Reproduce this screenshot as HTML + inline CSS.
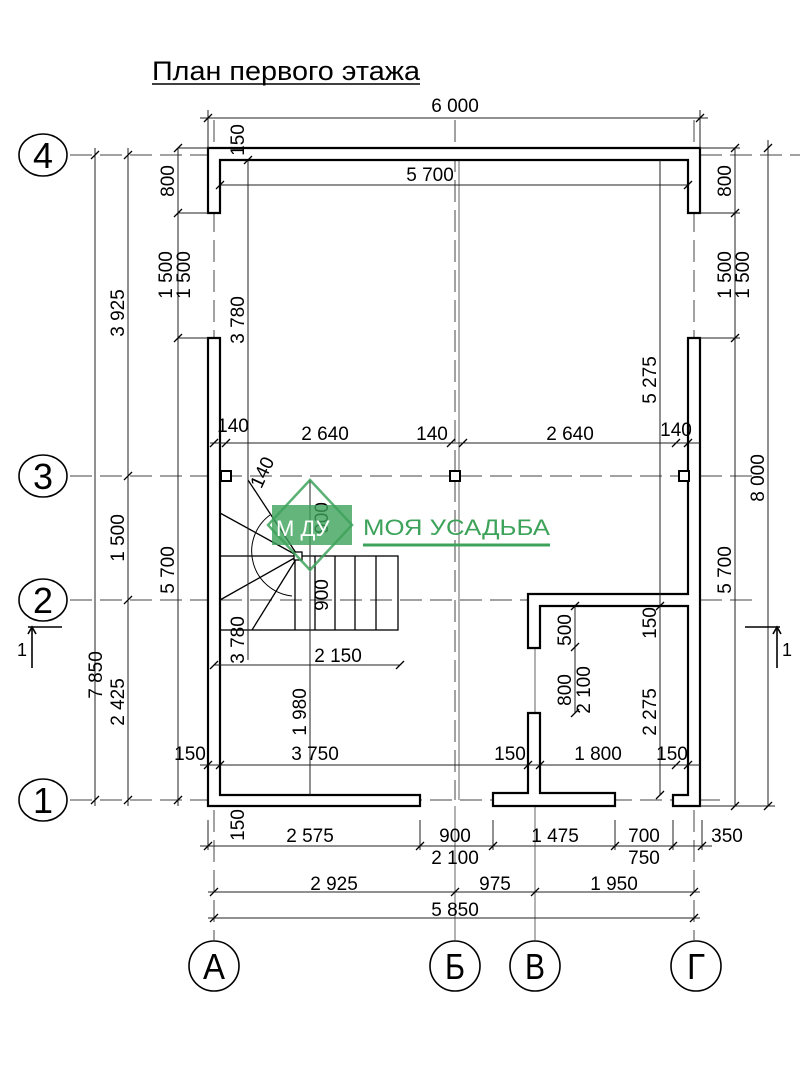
<!DOCTYPE html>
<html><head><meta charset="utf-8"><style>
html,body{margin:0;padding:0;background:#fff;}
svg{display:block;font-family:"Liberation Sans",sans-serif;}
</style></head><body>
<svg width="812" height="1079" viewBox="0 0 812 1079" xmlns="http://www.w3.org/2000/svg">
<rect width="812" height="1079" fill="#fff"/>
<text x="152" y="80" font-size="27" fill="#000" textLength="268" lengthAdjust="spacingAndGlyphs">План первого этажа</text>
<line x1="152" y1="84" x2="420" y2="84" stroke="#000" stroke-width="1.5"/>

<g stroke="#444" stroke-width="1" stroke-dasharray="22,8">
<line x1="70" y1="155" x2="800" y2="155"/>
<line x1="70" y1="476" x2="760" y2="476"/>
<line x1="70" y1="600" x2="760" y2="600"/>
<line x1="70" y1="800" x2="720" y2="800"/>
<line x1="214" y1="120" x2="214" y2="940"/>
<line x1="455" y1="120" x2="455" y2="800"/>
<line x1="694" y1="120" x2="694" y2="940"/>
</g>
<g stroke="#666" stroke-width="1">
<line x1="459" y1="160" x2="459" y2="800"/>
<line x1="455" y1="806" x2="455" y2="940"/>
<line x1="535" y1="606" x2="535" y2="940"/>
</g>

<g fill="#fff" stroke="#000" stroke-width="2.2">
<path d="M208 148 H700 V213 H688 V160 H220 V213 H208 Z"/>
<path d="M208 338 H220 V795 H420 V806 H208 Z"/>
<path d="M688 338 H700 V806 H673 V795 H688 V606 H540 V648 H528 V594 H688 Z"/>
<path d="M528 713 H540 V793 H615 V806 H493 V793 H528 Z"/>
</g>

<g fill="#fff" stroke="#000" stroke-width="2">
<rect x="221" y="471" width="10" height="10"/>
<rect x="450" y="471" width="10" height="10"/>
<rect x="679" y="471" width="10" height="10"/>
</g>

<g stroke="#000" stroke-width="1.3" fill="none">
<rect x="220" y="556" width="178" height="74"/>
<line x1="315" y1="556" x2="315" y2="630"/>
<line x1="335" y1="556" x2="335" y2="630"/>
<line x1="355" y1="556" x2="355" y2="630"/>
<line x1="376" y1="556" x2="376" y2="630"/>
<line x1="295" y1="556" x2="295" y2="630"/>
<line x1="298" y1="556" x2="248" y2="480"/>
<line x1="298" y1="556" x2="220" y2="513"/>
<line x1="298" y1="556" x2="220" y2="600"/>
<line x1="298" y1="556" x2="252" y2="630"/>
<rect x="294" y="552" width="8" height="8" fill="#fff"/>
<path d="M270 515 A45 45 0 0 0 292 596" stroke-width="1"/>
</g>

<g stroke="#222" stroke-width="1" fill="none">
<line x1="200" y1="118" x2="708" y2="118"/>
<line x1="95" y1="148" x2="95" y2="806"/>
<line x1="128" y1="148" x2="128" y2="806"/>
<line x1="178" y1="148" x2="178" y2="806"/>
<line x1="735" y1="148" x2="735" y2="806"/>
<line x1="768" y1="140" x2="768" y2="806"/>
<line x1="220" y1="185" x2="688" y2="185"/>
<line x1="248" y1="160" x2="248" y2="660"/>
<line x1="210" y1="443" x2="700" y2="443"/>
<line x1="214" y1="665" x2="400" y2="665"/>
<line x1="310" y1="480" x2="310" y2="795"/>
<line x1="200" y1="765" x2="700" y2="765"/>
<line x1="660" y1="160" x2="660" y2="795"/>
<line x1="575" y1="606" x2="575" y2="713"/>
<line x1="200" y1="846" x2="712" y2="846"/>
<line x1="208" y1="892" x2="700" y2="892"/>
<line x1="208" y1="918" x2="700" y2="918"/>
<line x1="178" y1="148" x2="208" y2="148"/>
<line x1="178" y1="213" x2="208" y2="213"/>
<line x1="178" y1="338" x2="208" y2="338"/>
<line x1="700" y1="148" x2="740" y2="148"/>
<line x1="700" y1="213" x2="740" y2="213"/>
<line x1="700" y1="338" x2="740" y2="338"/>
<line x1="700" y1="806" x2="775" y2="806"/>
<line x1="208" y1="820" x2="208" y2="850"/>
<line x1="420" y1="820" x2="420" y2="850"/>
<line x1="493" y1="820" x2="493" y2="850"/>
<line x1="615" y1="820" x2="615" y2="850"/>
<line x1="673" y1="820" x2="673" y2="850"/>
<line x1="702" y1="820" x2="702" y2="850"/>
<line x1="208" y1="110" x2="208" y2="148"/>
<line x1="700" y1="110" x2="700" y2="148"/>
</g>
<g stroke="#000" stroke-width="1.3">
<path d="M204 122 l8 -8 M696 122 l8 -8
M91 159 l8 -8 M91 804 l8 -8 M124 159 l8 -8 M124 480 l8 -8 M124 604 l8 -8 M124 804 l8 -8
M174 152 l8 -8 M174 217 l8 -8 M174 342 l8 -8 M174 804 l8 -8
M731 152 l8 -8 M731 217 l8 -8 M731 342 l8 -8 M731 810 l8 -8 M764 152 l8 -8 M764 810 l8 -8
M216 189 l8 -8 M684 189 l8 -8 M244 164 l8 -8
M210 447 l8 -8 M222 447 l8 -8 M447 447 l8 -8 M459 447 l8 -8 M672 447 l8 -8 M684 447 l8 -8
M210 669 l8 -8 M396 669 l8 -8
M204 769 l8 -8 M216 769 l8 -8 M524 769 l8 -8 M536 769 l8 -8 M672 769 l8 -8 M684 769 l8 -8
M571 610 l8 -8 M571 651 l8 -8 M571 717 l8 -8 M656 610 l8 -8 M656 799 l8 -8
M204 850 l8 -8 M416 850 l8 -8 M489 850 l8 -8 M611 850 l8 -8 M669 850 l8 -8 M698 850 l8 -8
M210 896 l8 -8 M451 896 l8 -8 M531 896 l8 -8 M690 896 l8 -8
M210 922 l8 -8 M690 922 l8 -8"/>
</g>

<g fill="#fff" stroke="#000" stroke-width="1.6">
<ellipse cx="43" cy="155" rx="24" ry="21"/>
<ellipse cx="43" cy="476" rx="24" ry="21"/>
<ellipse cx="43" cy="600" rx="24" ry="21"/>
<ellipse cx="43" cy="800" rx="24" ry="21"/>
<ellipse cx="214" cy="966" rx="25" ry="25"/>
<ellipse cx="455" cy="966" rx="25" ry="25"/>
<ellipse cx="535" cy="966" rx="25" ry="25"/>
<ellipse cx="696" cy="966" rx="25" ry="25"/>
</g>
<g font-size="36" text-anchor="middle" fill="#000">
<text x="43" y="168" textLength="20" lengthAdjust="spacingAndGlyphs">4</text><text x="43" y="489" textLength="20" lengthAdjust="spacingAndGlyphs">3</text><text x="43" y="613" textLength="20" lengthAdjust="spacingAndGlyphs">2</text><text x="43" y="813" textLength="20" lengthAdjust="spacingAndGlyphs">1</text>
<text x="214" y="979" textLength="22" lengthAdjust="spacingAndGlyphs">А</text><text x="455" y="979" textLength="20" lengthAdjust="spacingAndGlyphs">Б</text><text x="535" y="979" textLength="20" lengthAdjust="spacingAndGlyphs">В</text><text x="696" y="979" textLength="18" lengthAdjust="spacingAndGlyphs">Г</text>
</g>
<g stroke="#000" stroke-width="1.6" fill="none">
<line x1="28" y1="627" x2="62" y2="627"/><line x1="32" y1="627" x2="32" y2="668"/>
<path d="M28 634 L32 627 L36 634"/>
<line x1="745" y1="627" x2="780" y2="627"/><line x1="777" y1="627" x2="777" y2="668"/>
<path d="M773 634 L777 627 L781 634"/>
</g>
<g font-size="18" fill="#000"><text x="17" y="656">1</text><text x="782" y="656">1</text></g>

<g font-size="19" fill="#000" text-anchor="middle">
<text x="455" y="112">6 000</text>
<text x="430" y="181">5 700</text>
<text x="325" y="440">2 640</text>
<text x="432" y="440">140</text>
<text x="570" y="440">2 640</text>
<text x="233" y="432">140</text>
<text x="676" y="436">140</text>
<text x="338" y="662">2 150</text>
<text x="315" y="760">3 750</text>
<text x="190" y="760">150</text>
<text x="510" y="760">150</text>
<text x="598" y="760">1 800</text>
<text x="672" y="760">150</text>
<text x="310" y="842">2 575</text>
<text x="455" y="842">900</text>
<text x="455" y="864">2 100</text>
<text x="555" y="842">1 475</text>
<text x="644" y="842">700</text>
<text x="644" y="864">750</text>
<text x="727" y="842">350</text>
<text x="334" y="890">2 925</text>
<text x="495" y="890">975</text>
<text x="614" y="890">1 950</text>
<text x="455" y="916">5 850</text>
</g>
<g font-size="19" fill="#000" text-anchor="middle">
<text transform="translate(102,675) rotate(-90)">7 850</text>
<text transform="translate(124,313) rotate(-90)">3 925</text>
<text transform="translate(124,538) rotate(-90)">1 500</text>
<text transform="translate(124,702) rotate(-90)">2 425</text>
<text transform="translate(174,181) rotate(-90)">800</text>
<text transform="translate(172,275) rotate(-90)">1 500</text>
<text transform="translate(190,275) rotate(-90)">1 500</text>
<text transform="translate(174,570) rotate(-90)">5 700</text>
<text transform="translate(244,140) rotate(-90)">150</text>
<text transform="translate(244,320) rotate(-90)">3 780</text>
<text transform="translate(244,640) rotate(-90)">3 780</text>
<text transform="translate(244,825) rotate(-90)">150</text>
<text transform="translate(306,712) rotate(-90)">1 980</text>
<text transform="translate(328,518) rotate(-90)">900</text>
<text transform="translate(328,595) rotate(-90)">900</text>
<text transform="translate(268,475) rotate(-65)">140</text>
<text transform="translate(731,181) rotate(-90)">800</text>
<text transform="translate(731,275) rotate(-90)">1 500</text>
<text transform="translate(749,275) rotate(-90)">1 500</text>
<text transform="translate(731,570) rotate(-90)">5 700</text>
<text transform="translate(764,478) rotate(-90)">8 000</text>
<text transform="translate(656,380) rotate(-90)">5 275</text>
<text transform="translate(571,630) rotate(-90)">500</text>
<text transform="translate(571,690) rotate(-90)">800</text>
<text transform="translate(590,690) rotate(-90)">2 100</text>
<text transform="translate(656,623) rotate(-90)">150</text>
<text transform="translate(656,712) rotate(-90)">2 275</text>
</g>

<g>
<path d="M310 480 L352 525 L310 570 L268 525 Z" fill="none" stroke="#3da35a" stroke-width="2.5" opacity="0.85"/>
<rect x="272" y="505" width="80" height="40" fill="#3da35a" opacity="0.8"/>
<text x="276" y="536" font-size="22" fill="#fff">М ДУ</text>
<text x="363" y="535" font-size="22" fill="#3da35a" textLength="187" lengthAdjust="spacingAndGlyphs">МОЯ УСАДЬБА</text>
<line x1="363" y1="545" x2="550" y2="545" stroke="#3da35a" stroke-width="3"/>
</g>
</svg>
</body></html>
